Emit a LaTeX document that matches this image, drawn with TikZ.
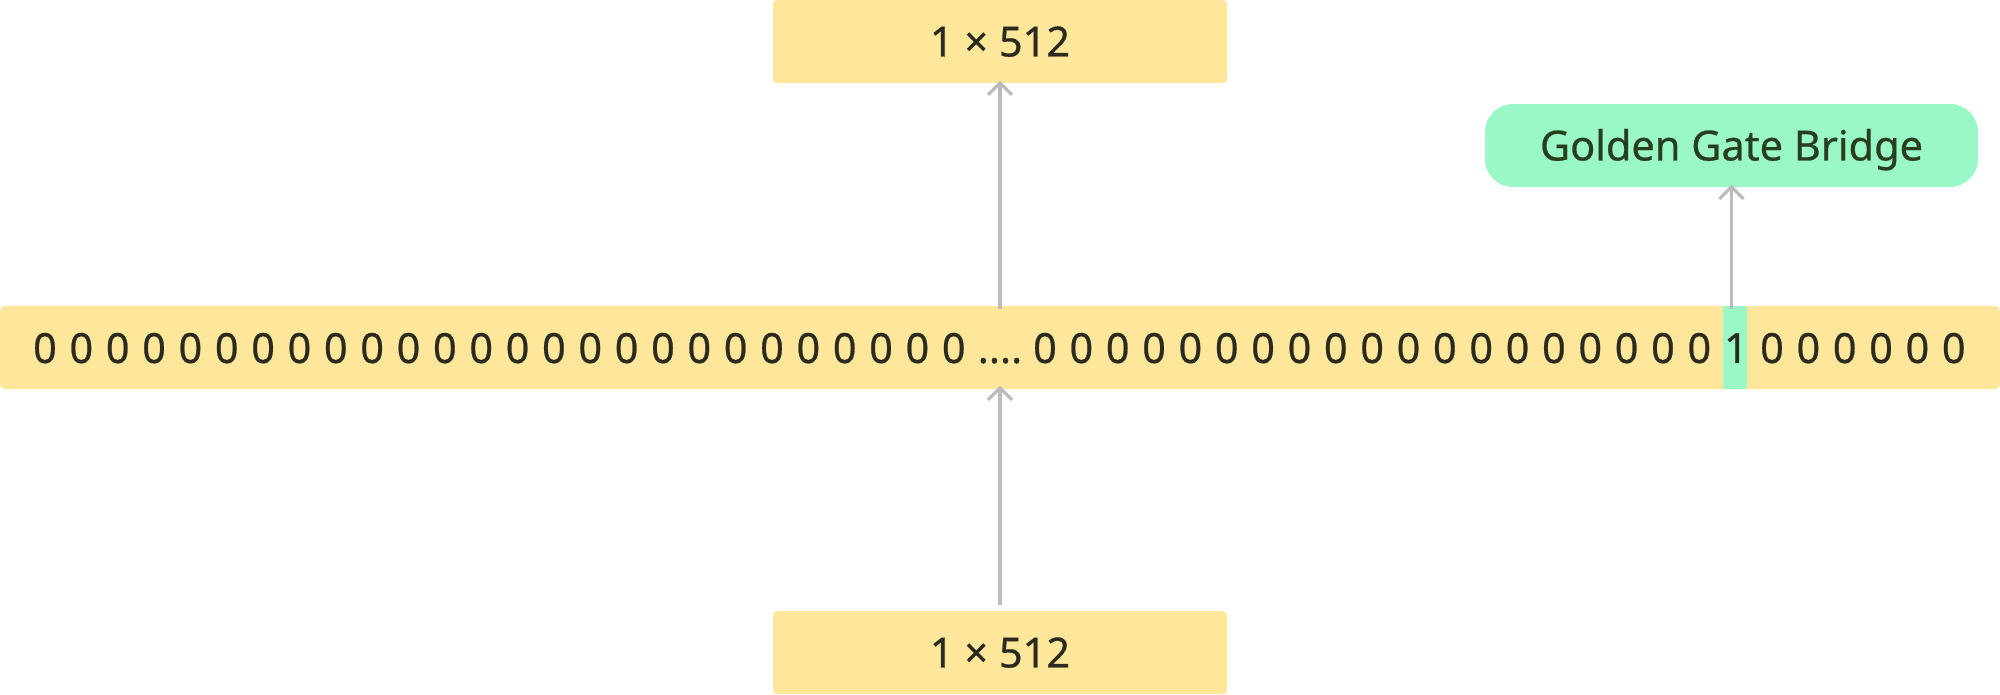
\documentclass[tikz,border=0pt]{standalone}
\usepackage{fontspec}
\setmainfont{Noto Sans}[FakeBold=0.6]
\usetikzlibrary{arrows.meta}

\definecolor{vecyellow}{HTML}{FEE79A}
\definecolor{vecgreen}{HTML}{9AF7C6}
\definecolor{ink}{HTML}{2B2A1F}
\definecolor{linkgray}{HTML}{BBBBBB}

\begin{document}
\begin{tikzpicture}[x=0.1mm, y=-0.1mm,
every node/.style = {font=\fontsize{11.8pt}{14pt}\selectfont, text=ink,
  text height=8.5pt, text depth=0pt, inner sep=0pt},
box/.style = {shape=rectangle, fill=vecyellow, rounded corners=0.4mm,
  minimum width=45.4mm, minimum height=8.3mm},
gbox/.style = {shape=rectangle, fill=vecgreen, rounded corners=2.8mm,
  minimum width=49.3mm, minimum height=8.3mm},
digit/.style = {shape=rectangle},
link/.style = {draw=linkgray, line width=0.9pt,
  -{Straight Barb[length=3.4pt, width=6.8pt]}}]
%
\useasboundingbox (0,0) rectangle (2000,695);
% one-hot row
\node[box, minimum width=200mm, rounded corners=0.5mm] (row) at (1000,347.5) {};
\node[shape=rectangle, fill=vecgreen, rounded corners=0.2mm,
  minimum width=2.4mm, minimum height=8.3mm] (hot) at (1735,347.5) {};
\foreach \i in {0,...,25}
  \node[digit] (l\i) at ({45+36.35*\i},348) {0};
\node[digit] (dots) at (1000,348) {....};
\foreach \i in {0,...,18}
  \node[digit] (r\i) at ({1045+36.35*\i},348) {0};
\node[digit] (one) at (1736,348) {1};
\foreach \i in {0,...,5}
  \node[digit] (t\i) at ({1772+36.35*\i},348) {0};
% embeddings and label
\node[box] (out) at (1000,41.5) {1 × 512};
\node[box] (in) at (1000,652.5) {1 × 512};
\node[gbox, text=ink!90!green] (label) at (1731.5,145.5) {Golden Gate Bridge};
% connectors
\draw[link] (in.north) ++(0,-5) -- ([yshift=0.4mm]row.south);
\draw[link] ([yshift=-0.4mm]row.north) -- ([yshift=0.3mm]out.south);
\draw[link] ([yshift=-0.4mm]label.south |- hot.north) -- ([yshift=0.3mm]label.south);
\end{tikzpicture}
\end{document}
